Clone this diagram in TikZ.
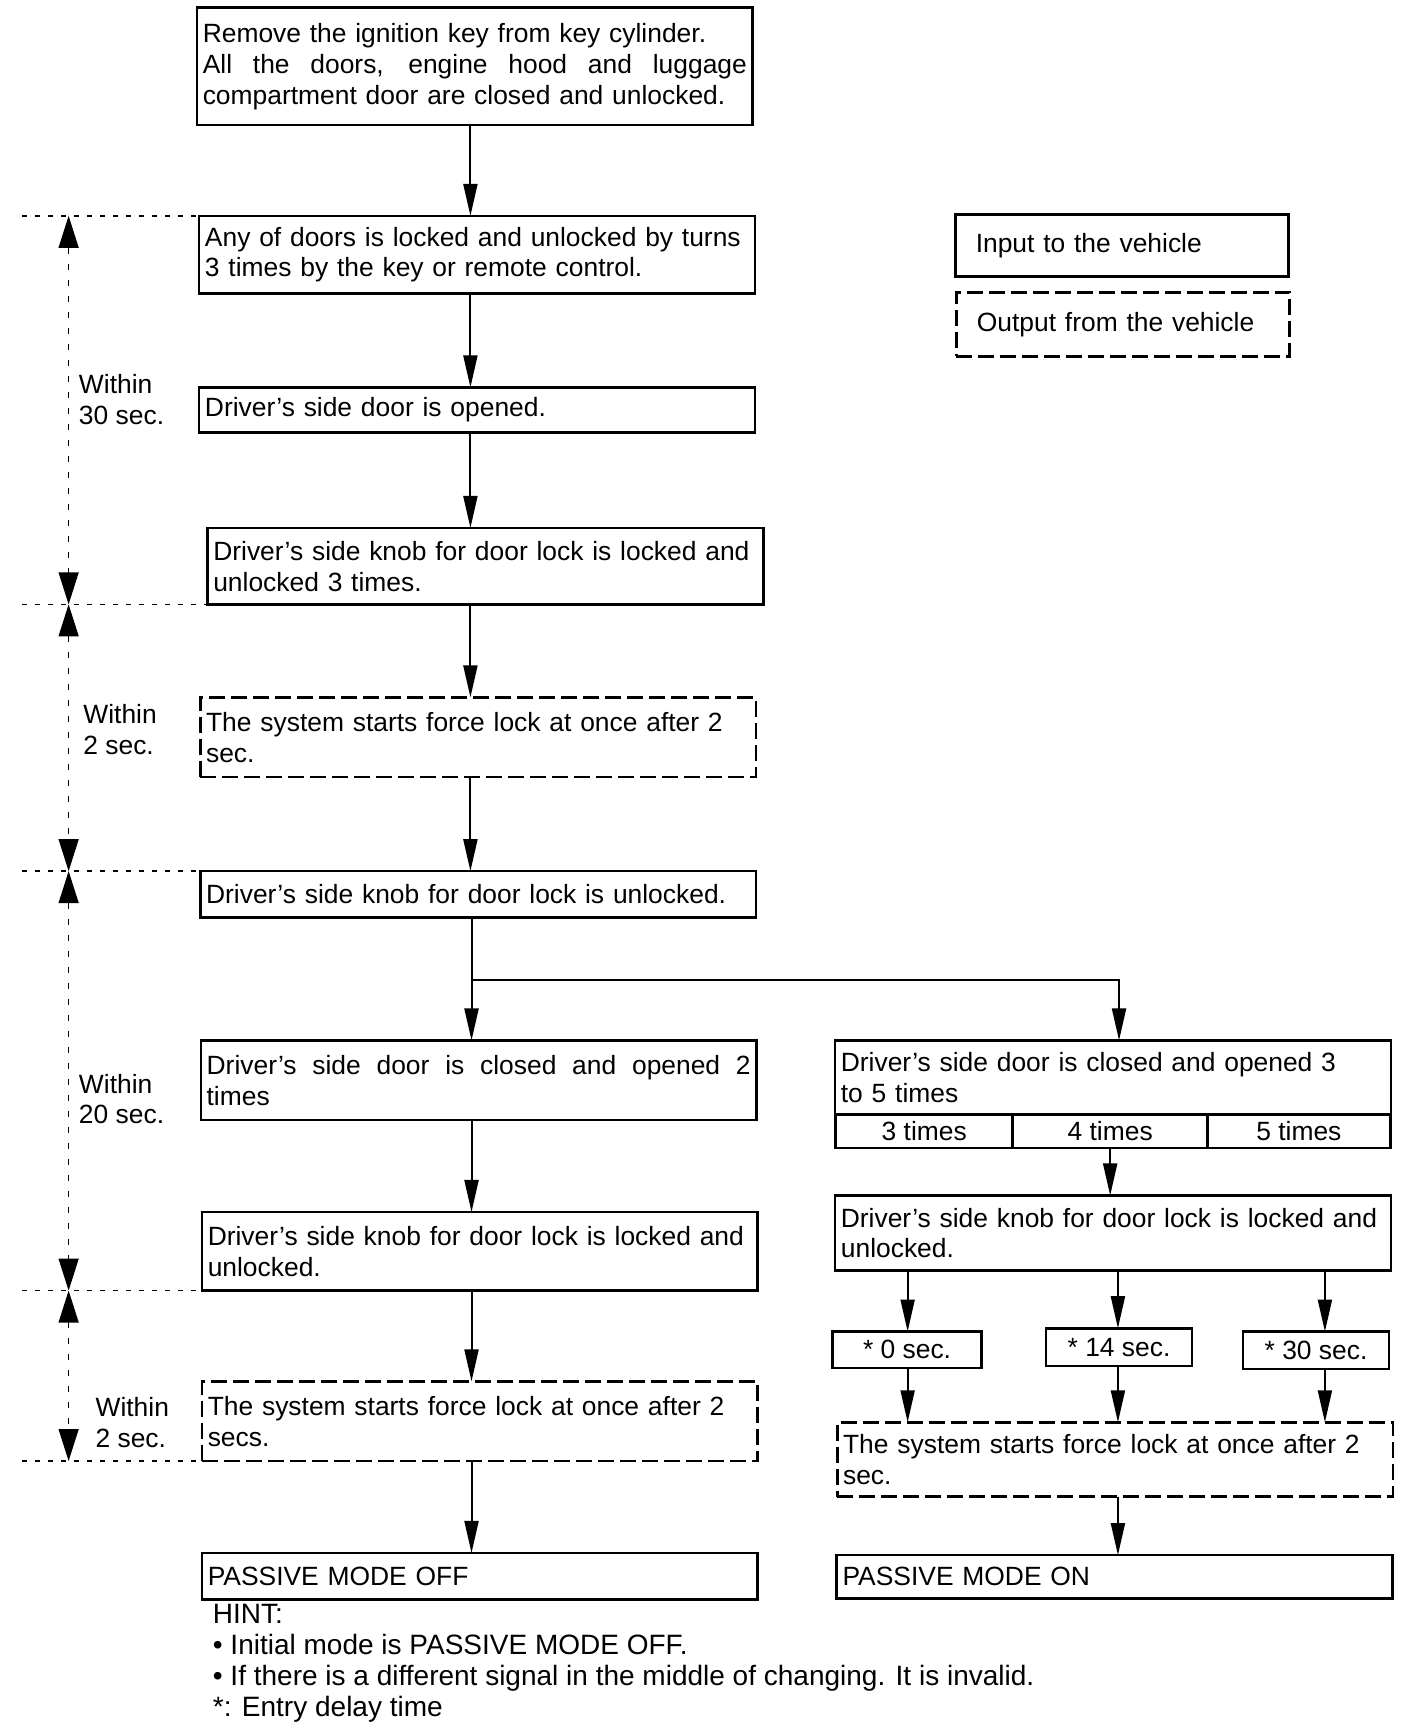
\documentclass[tikz,border=0pt]{standalone}
\usepackage{fontspec}
\setmainfont{Liberation Sans}
\usetikzlibrary{arrows.meta}
\begin{document}
\begin{tikzpicture}[x=0.5533pt,y=-0.5533pt,
  font=\fontsize{13.2}{15.4}\selectfont,
  box/.style={draw, line width=1.3pt, rectangle, inner xsep=2.9pt, inner ysep=0pt, outer sep=0pt, text width=272pt, minimum width=277.8pt, align=left},
  obox/.style={box, dash pattern=on 8pt off 3pt},
  sbox/.style={draw, line width=1.3pt, rectangle, inner sep=0pt, outer sep=0pt, align=center},
  lgbox/.style={box, text width=146pt, inner xsep=10.25pt, minimum width=166.5pt},
  arr/.style={line width=1pt, -{Triangle[length=16pt,width=7pt]}},
  plain/.style={line width=1pt},
  tarr/.style={line width=0.7pt, dash pattern=on 3pt off 5pt, {Triangle[length=16pt,width=10pt]}-{Triangle[length=16pt,width=10pt]}},
  hdash/.style={line width=0.7pt, dash pattern=on 2.5pt off 4pt},
  lbl/.style={anchor=west, align=left, inner sep=0pt}
]
\fill[white] (0pt,0pt) rectangle (704pt,-866.8pt);
\useasboundingbox (0pt,0pt) rectangle (704pt,-866.8pt);

% left column
\node[box, minimum height=58.6pt] (b1) at (429,60) {Remove the ignition key from key cylinder.\\\makebox[\hsize][s]{\spaceskip=3pt plus 1fil All the doors, engine hood and luggage}\\compartment door are closed and unlocked.};
\node[box, minimum height=38.7pt] (b2) at (431,230) {Any of doors is locked and unlocked by turns\\3 times by the key or remote control.};
\node[box, minimum height=22.7pt] (b3) at (431,370.5) {Driver’s side door is opened.};
\node[box, minimum height=38.2pt] (b4) at (438.5,511.5) {Driver’s side knob for door lock is locked and\\unlocked 3 times.};
\node[obox, minimum height=39.8pt] (b5) at (432,666) {The system starts force lock at once after 2\\sec.};
\node[box, minimum height=23.2pt] (b6) at (432,808) {Driver’s side knob for door lock is unlocked.};
\node[box, minimum height=39.8pt] (b7) at (432.5,976) {\makebox[\hsize][s]{\spaceskip=3pt plus 1fil Driver’s side door is closed and opened 2}\\times};
\node[box, minimum height=39.3pt] (b8) at (433.5,1130.5) {Driver’s side knob for door lock is locked and\\unlocked.};
\node[obox, minimum height=39.8pt] (b9) at (433.5,1284) {The system starts force lock at once after 2\\secs.};
\node[box, minimum height=23.2pt] (b10) at (433.5,1424) {PASSIVE MODE OFF};

% right column
\node[box, minimum height=37.1pt] (r1) at (1005.5,973.5) {Driver’s side door is closed and opened 3\\to 5 times};
\node[sbox, minimum width=88.5pt, minimum height=16.6pt] (c3) at (835,1022) {3 times};
\node[sbox, minimum width=97.4pt, minimum height=16.6pt] (c4) at (1003,1022) {4 times};
\node[sbox, minimum width=91.3pt, minimum height=16.6pt] (c5) at (1173.5,1022) {5 times};
\node[box, minimum height=37.6pt] (r2) at (1005.5,1114) {Driver’s side knob for door lock is locked and\\unlocked.};
\node[sbox, minimum width=74.7pt, minimum height=18.3pt] (d1) at (819.5,1219.5) {* 0 sec.};
\node[sbox, minimum width=73pt, minimum height=18.8pt] (d2) at (1011,1217) {* 14 sec.};
\node[sbox, minimum width=73pt, minimum height=18.8pt] (d3) at (1189,1220) {* 30 sec.};
\node[obox, minimum height=37.1pt] (r3) at (1007.5,1318.5) {The system starts force lock at once after 2\\sec.};
\node[box, minimum height=21.6pt] (r4) at (1007,1424.5) {PASSIVE MODE ON};

% legend
\node[lgbox, minimum height=31pt] (lin) at (1013.5,222) {Input to the vehicle};
\node[lgbox, dash pattern=on 8pt off 3pt, minimum height=32.1pt] (lout) at (1014.5,293) {Output from the vehicle};

% connectors
\coordinate (colL) at (425,0);
\coordinate (split) at (426,885);
\coordinate (rcol) at (1011,0);
\coordinate (x1) at (820,0);
\coordinate (x2) at (1010,0);
\coordinate (x3) at (1197,0);
\draw[arr] (b1.south -| colL) -- (b2.north -| colL);
\draw[arr] (b2.south -| colL) -- (b3.north -| colL);
\draw[arr] (b3.south -| colL) -- (b4.north -| colL);
\draw[arr] (b4.south -| colL) -- (b5.north -| colL);
\draw[arr] (b5.south -| colL) -- (b6.north -| colL);
\draw[plain] (b6.south -| split) -- (split);
\draw[arr] (split) -- (b7.north -| split);
\draw[arr] (split) -| (r1.north -| rcol);
\draw[arr] (b7.south -| split) -- (b8.north -| split);
\draw[arr] (b8.south -| split) -- (b9.north -| split);
\draw[arr] (b9.south -| split) -- (b10.north -| split);
\draw[arr] (c4.south) -- (c4.south |- r2.north);
\draw[arr] (r2.south -| x1) -- (d1.north -| x1);
\draw[arr] (r2.south -| x2) -- (d2.north -| x2);
\draw[arr] (r2.south -| x3) -- (d3.north -| x3);
\draw[arr] (d1.south -| x1) -- (r3.north -| x1);
\draw[arr] (d2.south -| x2) -- (r3.north -| x2);
\draw[arr] (d3.south -| x3) -- (r3.north -| x3);
\draw[arr] (r3.south -| x2) -- (r4.north -| x2);

% time axis
\coordinate (tx) at (62,0);
\coordinate (lx) at (20,0);
\draw[hdash] (b2.north west -| lx) -- (b2.north west);
\draw[hdash] (b4.south west -| lx) -- (b4.south west);
\draw[hdash] (b6.north west -| lx) -- (b6.north west);
\draw[hdash] (b8.south west -| lx) -- (b8.south west);
\draw[hdash] (b9.south west -| lx) -- (b9.south west);
\draw[tarr] (b2.north -| tx) -- (b4.south -| tx);
\draw[tarr] (b4.south -| tx) -- (b6.north -| tx);
\draw[tarr] (b6.north -| tx) -- (b8.south -| tx);
\draw[tarr] (b8.south -| tx) -- (b9.south -| tx);

\node[lbl] (w1) at (71,361) {Within\\30 sec.};
\node[lbl] (w2) at (75,659) {Within\\2 sec.};
\node[lbl] (w3) at (71,993) {Within\\20 sec.};
\node[lbl] (w4) at (86,1285) {Within\\2 sec.};

% hint
\node[anchor=north west, align=left, inner sep=0pt, font=\fontsize{14}{15.5}\selectfont] (hint) at (192,1449) {HINT:\\\textbullet\ Initial mode is PASSIVE MODE OFF.\\\textbullet\ If there is a different signal in the middle of changing. It is invalid.\\{*}: Entry delay time};
\end{tikzpicture}
\end{document}
